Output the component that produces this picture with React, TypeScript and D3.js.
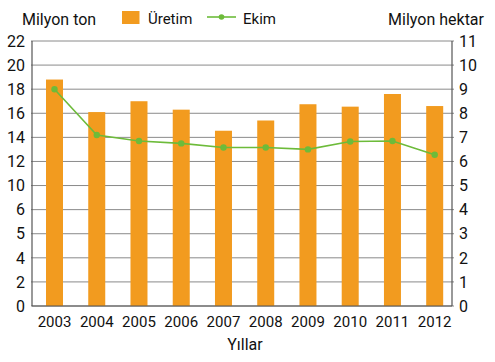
import React from "react";
import * as d3 from "d3";

const years = ["2003", "2004", "2005", "2006", "2007", "2008", "2009", "2010", "2011", "2012"];
// Üretim (bar heights, in left-axis position units 0–22)
const uretim = [18.8, 16.1, 17.0, 16.3, 14.55, 15.4, 16.75, 16.55, 17.6, 16.6];
// Ekim (right axis, milyon hektar)
const ekim = [9.0, 7.1, 6.85, 6.75, 6.58, 6.58, 6.5, 6.83, 6.85, 6.28];
// Left-axis labels as printed (bottom to top)
const leftLabels = ["0", "2", "4", "5", "6", "10", "12", "14", "16", "18", "20", "22"];
const rightTicks = [0, 1, 2, 3, 4, 5, 6, 7, 8, 9, 10, 11];

const W = 495;
const H = 362;
const plotL = 32;
const plotR = 452;
const plotT = 41;
const plotB = 306;
const FONT = "Roboto, 'Open Sans', sans-serif";

export default function App() {
  const x = d3.scalePoint<string>().domain(years).range([54.5, 434.7]);
  const yL = d3.scaleLinear().domain([0, 22]).range([plotB, plotT]);
  const yR = d3.scaleLinear().domain([0, 11]).range([plotB, plotT]);
  const barW = 17;
  const line = d3
    .line<number>()
    .x((_, i) => x(years[i]) as number)
    .y((d) => yR(d));

  return (
    <svg
      width={W}
      height={H}
      style={{ position: "absolute", left: 0, top: 0, background: "#fff" }}
      fontFamily={FONT}
    >
      {/* gridlines */}
      {rightTicks.map((t) => (
        <line key={"g" + t} x1={plotL - 1} x2={plotR + 2} y1={yR(t)} y2={yR(t)} stroke="#8a8a8a" strokeWidth={1} />
      ))}
      {/* bars */}
      {uretim.map((v, i) => (
        <rect
          key={"b" + i}
          x={(x(years[i]) as number) - barW / 2}
          y={yL(v)}
          width={barW}
          height={plotB - yL(v)}
          fill="#F29B1F"
        />
      ))}
      {/* axes */}
      <line x1={plotL} x2={plotL} y1={plotT} y2={plotB} stroke="#555" strokeWidth={1.2} />
      <line x1={plotR} x2={plotR} y1={plotT} y2={plotB} stroke="#555" strokeWidth={1.2} />
      <line x1={plotL} x2={plotR} y1={plotB} y2={plotB} stroke="#555" strokeWidth={1.2} />
      {/* line */}
      <path d={line(ekim) || ""} fill="none" stroke="#6DBB3A" strokeWidth={1.6} />
      {ekim.map((v, i) => (
        <circle key={"c" + i} cx={x(years[i]) as number} cy={yR(v)} r={3.2} fill="#6DBB3A" />
      ))}
      {/* left labels */}
      {leftLabels.map((l, i) => (
        <text key={"l" + i} x={25} y={yR(i)} dy="0.36em" textAnchor="end" fontSize={16} fill="#111">
          {l}
        </text>
      ))}
      {/* right labels */}
      {rightTicks.map((t) => (
        <text key={"r" + t} x={459} y={yR(t)} dy="0.36em" textAnchor="start" fontSize={16} fill="#111">
          {t}
        </text>
      ))}
      {/* x labels */}
      {years.map((yv) => (
        <text key={"x" + yv} x={x(yv) as number} y={327} textAnchor="middle" fontSize={15} fill="#111">
          {yv}
        </text>
      ))}
      <text x={245} y={350} textAnchor="middle" fontSize={16} fill="#111">
        Yıllar
      </text>
      {/* titles */}
      <text x={22} y={25} fontSize={16} fill="#111">
        Milyon ton
      </text>
      <text x={484} y={25} textAnchor="end" fontSize={16} fill="#111">
        Milyon hektar
      </text>
      {/* legend */}
      <rect x={122} y={11} width={17.5} height={13} fill="#F29B1F" />
      <text x={148} y={24} fontSize={15} fill="#111">
        Üretim
      </text>
      <line x1={207} x2={236} y1={17} y2={17} stroke="#6DBB3A" strokeWidth={1.6} />
      <circle cx={221.5} cy={17} r={2.8} fill="#6DBB3A" />
      <text x={243} y={24} fontSize={15} fill="#111">
        Ekim
      </text>
    </svg>
  );
}
